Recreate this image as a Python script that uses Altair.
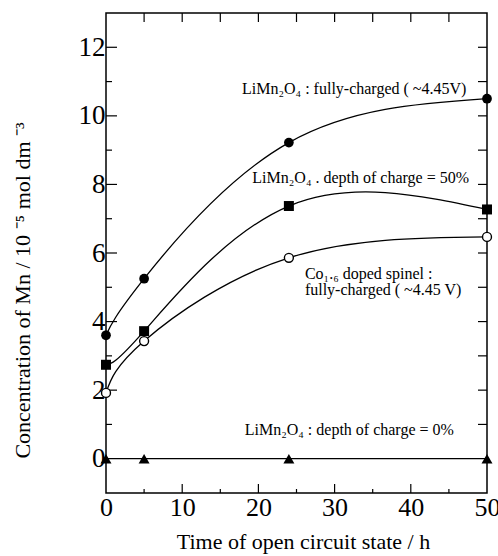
import altair as alt
import pandas as pd

# Open-circuit storage time (h) and dissolved Mn concentration (10^-5 mol dm^-3)
hours = [0, 5, 24, 50]
full_charged = [3.6, 5.25, 9.22, 10.5]
half_charged = [2.74, 3.72, 7.37, 7.27]
co_doped = [1.92, 3.43, 5.86, 6.47]
uncharged = [0.0, 0.0, 0.0, 0.0]

# Tick positions
x_labels = [0, 10, 20, 30, 40, 50]
x_major = [10, 20, 30, 40]
x_minor = [5, 15, 25, 35, 45]
x_top = [5, 10, 15, 20, 25, 30, 35, 40, 45]
y_labels = [0, 2, 4, 6, 8, 10, 12]
y_major = [2, 4, 6, 8, 10, 12]
y_minor = [1, 3, 5, 7, 9, 11]
y_right = [1, 2, 3, 4, 5, 6, 7, 8, 9, 10, 11, 12]

# Curve annotations: text, anchor time (h), anchor concentration
note_text = [
    "LiMn\u2082O\u2084 : fully-charged ( ~4.45V)",
    "LiMn\u2082O\u2084 . depth of charge = 50%",
    "Co\u2081.\u2086 doped spinel :",
    "fully-charged ( ~4.45 V)",
    "LiMn\u2082O\u2084 : depth of charge = 0%",
]
note_x = [17.85, 19.2, 26.1, 26.1, 18.2]
note_y = [10.63, 8.04, 5.24, 4.77, 0.69]

W, H = 381, 480
SERIF = "Liberation Serif"

x_scale = alt.Scale(domain=[0, 50], nice=False, zero=False)
y_scale = alt.Scale(domain=[-1, 13], nice=False, zero=False)

x_axis = alt.Axis(
    values=x_labels, ticks=False, domain=False, grid=False,
    labelFont=SERIF, labelFontSize=26, labelColor="black", labelPadding=1,
    labelOverlap=False, labelFlush=False,
    title="Time of open circuit state / h", titleFont=SERIF, titleFontSize=22,
    titleFontWeight="normal", titleColor="black", titleX=197, titleY=55,
    titleBaseline="alphabetic", titleAlign="center",
)
y_axis = alt.Axis(
    values=y_labels, ticks=False, domain=False, grid=False,
    labelFont=SERIF, labelFontSize=27, labelColor="black", labelPadding=1,
    labelOverlap=False, labelFlush=False,
    title="Concentration of Mn / 10 \u207b\u2075 mol dm \u207b\u00b3", titleFont=SERIF,
    titleFontSize=22, titleFontWeight="normal", titleColor="black",
    titleX=-77, titleY=277, titleAngle=270, titleBaseline="alphabetic",
    titleAlign="center",
)


def X(field):
    return alt.X(field, scale=x_scale, axis=x_axis)


def Y(field):
    return alt.Y(field, scale=y_scale, axis=y_axis)


series = pd.concat([
    pd.DataFrame({"t": hours, "c": full_charged, "s": "full"}),
    pd.DataFrame({"t": hours, "c": half_charged, "s": "half"}),
    pd.DataFrame({"t": hours, "c": co_doped, "s": "co"}),
    pd.DataFrame({"t": hours, "c": uncharged, "s": "zero"}),
])


def sub(name):
    return alt.datum.s == name


base = alt.Chart(series)

curves = base.mark_line(color="black", strokeWidth=1.3, interpolate="natural").encode(
    x=X("t:Q"), y=Y("c:Q"), detail="s:N",
)

full_pts = base.transform_filter(sub("full")).mark_point(
    shape="circle", filled=True, color="black", size=95, opacity=1
).encode(x=X("t:Q"), y=Y("c:Q"))
half_pts = base.transform_filter(sub("half")).mark_point(
    shape="square", filled=True, color="black", size=100, opacity=1
).encode(x=X("t:Q"), y=Y("c:Q"))
co_pts = base.transform_filter(sub("co")).mark_point(
    shape="circle", filled=True, fill="white", stroke="black", strokeWidth=1.4,
    size=80, opacity=1
).encode(x=X("t:Q"), y=Y("c:Q"))
zero_pts = base.transform_filter(sub("zero")).mark_point(
    shape="triangle-up", filled=True, color="black", size=120, opacity=1
).encode(x=X("t:Q"), y=Y("c:Q"))


def hticks(values, x0, x1):
    return alt.Chart(pd.DataFrame({"v": values})).mark_rule(
        color="black", strokeWidth=1.2
    ).encode(y=Y("v:Q"), x=alt.value(x0), x2=alt.value(x1))


def vticks(values, y0, y1):
    return alt.Chart(pd.DataFrame({"v": values})).mark_rule(
        color="black", strokeWidth=1.2
    ).encode(x=X("v:Q"), y=alt.value(y0), y2=alt.value(y1))


ticks = [
    hticks(y_major, 0, 11),
    hticks(y_minor, 0, 6),
    hticks(y_right, W - 9, W),
    vticks(x_major, H - 9, H),
    vticks(x_minor, H - 4, H),
    vticks(x_top, 0, 9),
]

notes = alt.Chart(pd.DataFrame({"t": note_x, "c": note_y, "label": note_text})).mark_text(
    align="left", baseline="alphabetic", font=SERIF, fontSize=16, color="black"
).encode(x=X("t:Q"), y=Y("c:Q"), text="label:N")

chart = alt.layer(
    curves, *ticks, full_pts, half_pts, co_pts, zero_pts, notes
).properties(
    width=W, height=H,
    autosize=alt.AutoSizeParams(type="none"),
    padding={"left": 106, "top": 13, "right": 11, "bottom": 63},
    background="white",
).configure_view(
    stroke="black", strokeWidth=1.5
)

chart.save("out.html", embed_options={"renderer": "svg", "actions": False})
